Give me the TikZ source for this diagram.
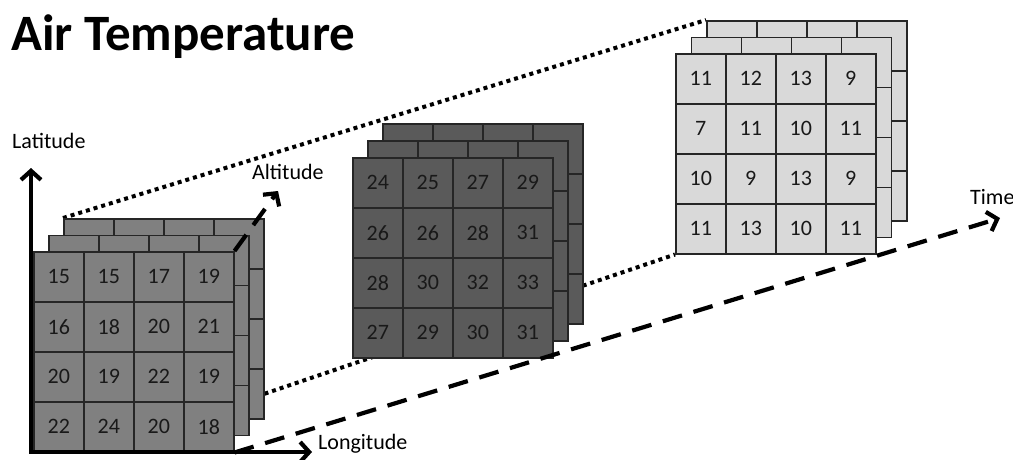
\documentclass[tikz,border=0pt]{standalone}
\usepackage{fontspec}
\setmainfont{Carlito}
\usetikzlibrary{arrows.meta,backgrounds}

\definecolor{cubeLeft}{HTML}{808080}
\definecolor{cubeMid}{HTML}{5A5A5A}
\definecolor{cubeRight}{HTML}{D9D9D9}
\definecolor{edge}{HTML}{262626}

\begin{document}
\begin{tikzpicture}[
    x=1pt, y=-1pt,
    cell/.style={draw=edge, line width=1.5pt, minimum width=50pt, minimum height=50pt, inner sep=0pt, anchor=north west, text=black!90, font=\fontsize{22}{26}\selectfont},
    lbl/.style={anchor=base west, inner sep=0pt, font=\fontsize{22}{26}\selectfont},
    axis/.style={line width=4.2pt, -{Straight Barb[length=9pt, width=20pt]}},
    dashaxis/.style={axis, dash pattern=on 20pt off 12pt},
    link/.style={line width=4pt, dash pattern=on 4pt off 4pt}
  ]
    \useasboundingbox (0,0) rectangle (1013,459);

    % title and axis labels
    \node[anchor=base west, inner sep=0pt, font=\fontsize{51}{56}\selectfont\bfseries] (title) at (11,50) {Air Temperature};
    \node[lbl] (latLbl) at (12,148) {Latitude};
    \node[lbl] (altLbl) at (252,179) {Altitude};
    \node[lbl] (lonLbl) at (318,449) {Longitude};
    \node[lbl] (timeLbl) at (970,204) {Time};

    % left cube
    \foreach \k in {2,1}
      \foreach \r in {1,...,4}
        \foreach \c in {1,...,4}
          \node[cell, fill=cubeLeft] (L\k-\r-\c) at ({33+15*\k+50*(\c-1)}, {251-16.5*\k+50*(\r-1)}) {};
    \foreach \row [count=\r] in {{15,15,17,19},{16,18,20,21},{20,19,22,19},{22,24,20,18}}
      \foreach \v [count=\c] in \row
        \node[cell, fill=cubeLeft] (L0-\r-\c) at ({33+50*(\c-1)}, {251+50*(\r-1)}) {\v};

    % middle cube
    \foreach \k in {2,1}
      \foreach \r in {1,...,4}
        \foreach \c in {1,...,4}
          \node[cell, fill=cubeMid] (M\k-\r-\c) at ({352+15*\k+50*(\c-1)}, {157-17*\k+50*(\r-1)}) {};
    \foreach \row [count=\r] in {{24,25,27,29},{26,26,28,31},{28,30,32,33},{27,29,30,31}}
      \foreach \v [count=\c] in \row
        \node[cell, fill=cubeMid] (M0-\r-\c) at ({352+50*(\c-1)}, {157+50*(\r-1)}) {\v};

    % right cube
    \foreach \k in {2,1}
      \foreach \r in {1,...,4}
        \foreach \c in {1,...,4}
          \node[cell, fill=cubeRight] (R\k-\r-\c) at ({675+15.5*\k+50*(\c-1)}, {53-16.5*\k+50*(\r-1)}) {};
    \foreach \row [count=\r] in {{11,12,13,9},{7,11,10,11},{10,9,13,9},{11,13,10,11}}
      \foreach \v [count=\c] in \row
        \node[cell, fill=cubeRight] (R0-\r-\c) at ({675+50*(\c-1)}, {53+50*(\r-1)}) {\v};

    % dotted links behind the cubes
    \begin{scope}[on background layer]
      \draw[link] (L2-1-1.north west) -- (R2-1-1.north west);
      \draw[link] (L2-4-4.east) -- (R0-4-1.south west);
    \end{scope}

    % axes
    \coordinate (orig) at (31,452);
    \coordinate (latEnd) at (31,168);
    \coordinate (lonEnd) at (312,452);
    \coordinate (altEnd) at (278,191);
    \coordinate (timeEnd) at (1000,218);
    \draw[axis, line cap=rect] (orig) -- (latEnd);
    \draw[axis, line cap=rect] (orig) -- (lonEnd);
    \draw[dashaxis] (L0-1-4.north east) -- (altEnd);
    \draw[dashaxis] (L0-4-4.south east) -- (timeEnd);
  \end{tikzpicture}
\end{document}
